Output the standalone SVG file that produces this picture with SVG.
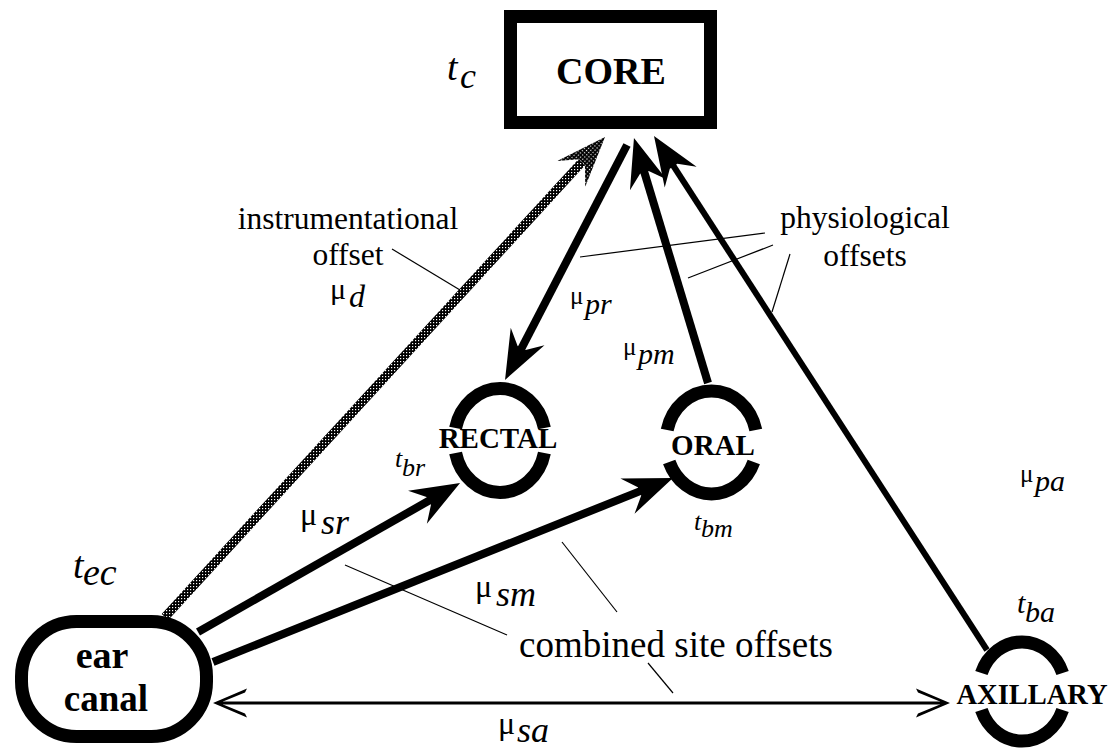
<svg xmlns="http://www.w3.org/2000/svg" width="1112" height="748" viewBox="0 0 1112 748">
<style>
.box{fill:#fff;stroke:#000;stroke-width:13}
.ring{fill:none;stroke:#000;stroke-width:13}
.nl{font-family:"Liberation Serif",serif;font-weight:bold;text-anchor:middle;fill:#000}
.lb{font-family:"Liberation Serif",serif;fill:#000}
.it{font-style:italic}
.thick{fill:none;stroke:#000;stroke-width:8}
.med{fill:none;stroke:#000;stroke-width:6}
.thin{fill:none;stroke:#000;stroke-width:3}
.lead{fill:none;stroke:#000;stroke-width:1.2}
</style>
<defs>
<pattern id="hatch" width="3" height="3" patternUnits="userSpaceOnUse">
<rect width="3" height="3" fill="#000"/>
<rect x="1" y="1" width="1.2" height="1.2" fill="#fff"/>
</pattern>
<marker id="head" viewBox="-20 -22 60 44" markerWidth="60" markerHeight="44" refX="0" refY="0" markerUnits="userSpaceOnUse" orient="auto">
<path d="M34,0 L-15,-19 L-2,-4.5 L-2,4.5 L-15,19 Z" fill="#000"/>
</marker>
<marker id="vhead" viewBox="-30 -18 44 36" markerWidth="44" markerHeight="36" refX="0" refY="0" markerUnits="userSpaceOnUse" orient="auto-start-reverse">
<path d="M10,0 L-24,-14.5 L-22,-10.5 L0,-1.6 L0,1.6 L-22,10.5 L-24,14.5 Z" fill="#000"/>
</marker>
</defs>

<g id="connectors">
<line x1="165" y1="617" x2="582" y2="162" stroke="url(#hatch)" stroke-width="9"/>
<g transform="translate(605,137) rotate(-47.5)"><path d="M0,0 L-50,-19 L-34,-4 L-34,4 L-50,19 Z" fill="url(#hatch)"/></g>
<line class="thick" x1="627" y1="145" x2="520.7" y2="349.8" marker-end="url(#head)"/>
<line class="thick" x1="708" y1="383" x2="643.8" y2="170.5" marker-end="url(#head)"/>
<line class="med" x1="987" y1="650" x2="672.5" y2="164.5" marker-end="url(#head)"/>
<line class="thick" x1="198" y1="632" x2="430.5" y2="499.8" marker-end="url(#head)"/>
<line class="thick" x1="213" y1="662" x2="641.4" y2="490.6" marker-end="url(#head)"/>
<line class="thin" x1="223" y1="703" x2="940" y2="703" marker-start="url(#vhead)" marker-end="url(#vhead)"/>
<line class="lead" x1="392" y1="249" x2="460" y2="290"/>
<line class="lead" x1="580" y1="257" x2="765" y2="233"/>
<line class="lead" x1="688" y1="278" x2="773" y2="245"/>
<line class="lead" x1="790" y1="254" x2="772" y2="312"/>
<line class="lead" x1="345" y1="565" x2="507" y2="635"/>
<line class="lead" x1="562" y1="542" x2="617" y2="612"/>
<line class="lead" x1="648" y1="663" x2="673" y2="693"/>
</g>

<g id="core">
<rect class="box" x="510.5" y="16.5" width="200" height="106"/>
<text class="nl" x="611" y="84" font-size="38">CORE</text>
<text class="lb it" x="447" y="80" font-size="38">t</text>
<text class="lb it" x="460" y="88" font-size="36">c</text>
</g>

<g id="ear-canal">
<rect class="box" x="21.5" y="621.5" width="185" height="115" rx="55" ry="55"/>
<text class="nl" x="102" y="668" font-size="38">ear</text>
<text class="nl" x="106" y="711" font-size="37">canal</text>
<text class="lb it" x="73" y="578" font-size="38">t</text>
<text class="lb it" x="83" y="585" font-size="38">ec</text>
</g>

<g id="rectal">
<path class="ring" d="M455.6,428 A45.5 50.5 0 0 1 544.4,428"/>
<path class="ring" d="M544.4,453 A45.5 50.5 0 0 1 455.6,453"/>
<text class="nl" x="498" y="448" font-size="29">RECTAL</text>
<text class="lb it" x="395" y="467" font-size="26">t</text>
<text class="lb it" x="402" y="476" font-size="26">br</text>
</g>

<g id="oral">
<path class="ring" d="M667.2,430 A45.5 50.5 0 0 1 755.8,430"/>
<path class="ring" d="M753.8,462 A45.5 50.5 0 0 1 669.2,462"/>
<text class="nl" x="713" y="455" font-size="29">ORAL</text>
<text class="lb it" x="694" y="530" font-size="26">t</text>
<text class="lb it" x="701" y="537" font-size="26">bm</text>
</g>

<g id="axillary">
<path class="ring" d="M981.4,673 A43.5 48.5 0 0 1 1062.6,673"/>
<path class="ring" d="M1062.6,710 A43.5 48.5 0 0 1 981.4,710"/>
<text class="nl" x="1032" y="704" font-size="28.5">AXILLARY</text>
<text class="lb it" x="1017" y="613" font-size="30">t</text>
<text class="lb it" x="1025" y="622" font-size="30">ba</text>
</g>

<g id="labels">
<text class="lb" x="348" y="229" font-size="31.5" text-anchor="middle">instrumentational</text>
<text class="lb" x="348" y="265" font-size="31.5" text-anchor="middle">offset</text>
<text class="lb" x="330" y="299" font-size="30">μ</text>
<text class="lb it" x="349" y="307" font-size="32">d</text>
<text class="lb" x="865" y="228" font-size="31.5" text-anchor="middle">physiological</text>
<text class="lb" x="865" y="266" font-size="31.5" text-anchor="middle">offsets</text>
<text class="lb" x="676" y="657" font-size="37" text-anchor="middle">combined site offsets</text>
<text class="lb" x="570" y="304" font-size="25">μ</text>
<text class="lb it" x="585" y="314" font-size="30">pr</text>
<text class="lb" x="623" y="355" font-size="25">μ</text>
<text class="lb it" x="638" y="364" font-size="30">pm</text>
<text class="lb" x="1020" y="482" font-size="25">μ</text>
<text class="lb it" x="1035" y="491" font-size="30">pa</text>
<text class="lb" x="300" y="525" font-size="32">μ</text>
<text class="lb it" x="321" y="534" font-size="36">sr</text>
<text class="lb" x="475" y="597" font-size="32">μ</text>
<text class="lb it" x="496" y="606" font-size="36">sm</text>
<text class="lb" x="498" y="734" font-size="32">μ</text>
<text class="lb it" x="517" y="742" font-size="36">sa</text>
</g>
</svg>
